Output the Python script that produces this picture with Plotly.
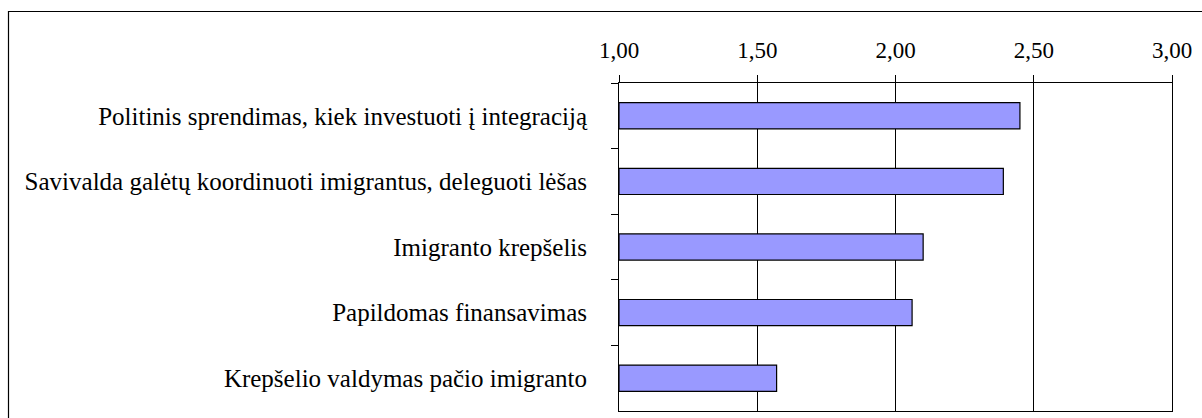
import plotly.graph_objects as go

# Survey answers, listed top to bottom as they appear on the chart
categories = [
    "Politinis sprendimas, kiek investuoti į integraciją",
    "Savivalda galėtų koordinuoti imigrantus, deleguoti lėšas",
    "Imigranto krepšelis",
    "Papildomas finansavimas",
    "Krepšelio valdymas pačio imigranto",
]
scores = [2.45, 2.39, 2.10, 2.06, 1.57]

x_ticks = [1.0, 1.5, 2.0, 2.5, 3.0]

W, H = 1202, 418
left, right, top, bottom = 619, 30, 83, 7

fig = go.Figure(
    go.Bar(
        y=categories,
        x=[s - 1.0 for s in scores],
        base=1.0,
        orientation="h",
        width=0.4,
        marker=dict(color="#9999FF", line=dict(color="#000000", width=1.2)),
        hoverinfo="skip",
    )
)

serif = "Liberation Serif, Times New Roman, serif"
cat_font = dict(family=serif, size=25, color="#000000")
num_font = dict(family=serif, size=23, color="#000000")

fig.update_layout(
    width=W,
    height=H,
    margin=dict(l=left, r=right, t=top, b=bottom, pad=0),
    paper_bgcolor="#ffffff",
    plot_bgcolor="#ffffff",
    separators=", ",
    showlegend=False,
    font=cat_font,
    xaxis=dict(
        side="top",
        range=[1.0, 3.0],
        tickvals=x_ticks,
        tickformat=".2f",
        ticks="outside",
        ticklen=7,
        tickcolor="#000000",
        showgrid=True,
        gridcolor="#000000",
        gridwidth=1,
        showline=True,
        linecolor="#000000",
        linewidth=1,
        mirror=True,
        zeroline=False,
        ticklabelstandoff=8,
        tickfont=num_font,
        fixedrange=True,
    ),
    yaxis=dict(
        type="category",
        categoryorder="array",
        categoryarray=categories,
        autorange="reversed",
        tickson="boundaries",
        ticks="outside",
        ticklen=7,
        tickcolor="#000000",
        showgrid=False,
        showline=True,
        linecolor="#000000",
        linewidth=1,
        mirror=True,
        zeroline=False,
        ticklabelstandoff=26,
        tickfont=cat_font,
        fixedrange=True,
    ),
)

# Frame around the whole chart area
plot_w = W - left - right
plot_h = H - top - bottom
fig.add_shape(
    type="rect",
    xref="paper",
    yref="paper",
    x0=(8.5 - left) / plot_w,
    x1=(W + 20 - left) / plot_w,
    y0=-(bottom + 20) / plot_h,
    y1=(H - bottom - 11.5) / plot_h,
    line=dict(color="#000000", width=1.2),
    fillcolor="rgba(0,0,0,0)",
    layer="below",
)

fig.write_html("out.html")
